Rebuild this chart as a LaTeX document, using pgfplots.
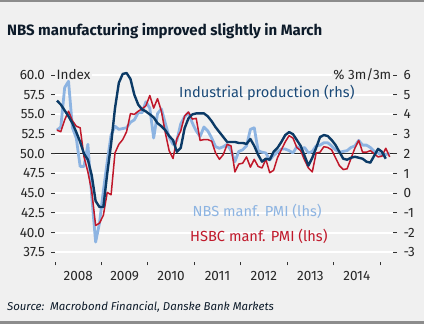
\documentclass[border=0pt]{standalone}
\usepackage{fontspec}
\setmainfont{Fira Sans}
\usepackage{pgfplots}
\pgfplotsset{compat=1.18}
\usepackage{pgfplotstable}

\definecolor{bg}{HTML}{F0F0F0}
\definecolor{navy}{HTML}{0B3A66}
\definecolor{navytxt}{HTML}{1B4A78}
\definecolor{lblue}{HTML}{8DB4E2}
\definecolor{hred}{HTML}{C0182A}
\definecolor{border}{HTML}{8C8C8C}
\definecolor{titlec}{HTML}{0D1B2A}

% m = months since Jan 2008; nbs, hsbc = PMI (lhs); ip = industrial production % 3m/3m (rhs)
\pgfplotstableread{
m nbs hsbc ip
0 53.0 53.0 4.7
1 53.4 52.8 4.5
2 58.4 54.3 4.2
3 59.2 55.4 3.9
4 53.3 54.2 3.55
5 52.0 53.5 3.1
6 48.4 53.3 2.6
7 48.4 49.6 2.0
8 51.2 47.7 1.7
9 44.6 45.2 0.9
10 38.8 40.9 -0.4
11 41.2 41.2 -0.7
12 45.3 42.2 -0.7
13 49.0 45.1 1.0
14 52.4 44.8 2.5
15 53.5 50.1 4.3
16 53.1 51.2 5.6
17 53.2 51.8 6.05
18 53.3 52.8 6.1
19 54.0 55.1 5.8
20 54.3 55.0 5.0
21 55.2 55.4 4.5
22 55.2 55.7 4.25
23 56.6 56.1 4.15
24 55.8 57.4 4.0
25 52.0 55.8 3.85
26 55.1 57.0 3.55
27 55.7 55.4 3.4
28 53.9 52.7 3.2
29 52.1 50.4 2.9
30 51.2 49.4 2.7
31 51.7 51.9 2.1
32 53.8 52.9 2.3
33 54.7 54.8 3.3
34 55.2 55.3 3.8
35 53.9 54.4 4.0
36 52.9 54.5 4.05
37 52.2 51.7 4.05
38 53.4 51.8 4.05
39 52.9 51.8 3.9
40 52.0 51.6 3.65
41 50.9 50.1 3.35
42 50.7 49.3 3.1
43 50.9 49.9 2.85
44 51.2 51.2 2.6
45 50.4 51.0 2.6
46 49.0 47.7 2.6
47 50.3 48.7 2.55
48 50.5 48.8 2.55
49 51.0 49.6 2.5
50 53.1 48.3 2.75
51 53.3 49.3 2.4
52 50.4 48.4 1.95
53 50.2 48.2 1.6
54 50.1 49.3 1.75
55 49.2 47.6 1.7
56 49.8 47.9 2.1
57 50.2 49.5 2.3
58 50.6 50.5 2.6
59 50.6 51.5 2.95
60 50.4 52.3 3.1
61 50.1 52.0 3.0
62 50.9 50.8 2.7
63 50.6 50.4 2.4
64 50.8 49.2 1.9
65 50.1 48.2 1.4
66 50.3 47.7 1.8
67 51.0 50.1 2.3
68 51.1 50.2 2.85
69 51.4 50.9 2.95
70 51.4 50.8 2.9
71 51.0 50.5 2.7
72 50.5 49.5 2.45
73 50.2 48.5 2.1
74 50.3 48.0 1.75
75 50.4 48.1 1.7
76 50.8 49.4 1.8
77 51.0 50.7 1.85
78 51.7 51.7 1.8
79 51.1 50.2 1.75
80 51.1 50.2 1.6
81 50.8 50.4 1.55
82 50.3 50.0 1.9
83 50.1 49.6 2.25
84 49.8 49.7 2.1
85 49.9 50.7 1.75
86 50.1 49.6 nan
}\pmidata

\pgfplotsset{
  numfont/.style={font=\fontsize{13.5bp}{15bp}\selectfont, text=black!85},
}

\begin{document}
\begin{tikzpicture}
\fill[bg] (0bp,0bp) rectangle (424bp,324bp);
\fill[border] (0bp,321.5bp) rectangle (424bp,324bp);
\fill[border] (0bp,0bp) rectangle (424bp,2.5bp);
\node[anchor=base west, inner sep=0, text=titlec, font=\fontsize{15bp}{17bp}\selectfont\bfseries] at (7bp,288.5bp) {NBS manufacturing improved slightly in March};
\node[anchor=base west, inner sep=0, text=titlec, font=\fontsize{11.4bp}{13bp}\selectfont\itshape] at (7bp,13.5bp) {Source:\ \ Macrobond Financial, Danske Bank Markets};

\begin{axis}[
  at={(55bp,62bp)}, anchor=south west, scale only axis,
  width=338bp, height=194.9bp,
  xmin=-0.5, xmax=86.86, ymin=36.27, ymax=61,
  axis x line*=bottom, axis y line*=left,
  x axis line style={draw=none}, y axis line style={draw=none},
  xtick={-0.5,11.5,23.5,35.5,47.5,59.5,71.5,83.5},
  xticklabels={2008,2009,2010,2011,2012,2013,2014,2015},
  x tick label as interval,
  ytick={37.5,40,42.5,45,47.5,50,52.5,55,57.5,60},
  ymajorgrids, grid style={white, line width=2bp},
  tick align=outside, major tick length=3.5bp,
  y tick style={line width=0.8bp, black!80},
  x tick style={line width=0.8bp, black!80},
  /pgf/number format/assume math mode=true,
  yticklabel style={numfont, /pgf/number format/fixed, /pgf/number format/fixed zerofill, /pgf/number format/precision=1, xshift=-3bp},
  xticklabel style={numfont, yshift=-2bp},
  clip=false,
]
\node[anchor=base west, fill=bg, inner xsep=1.5bp, inner ysep=2bp, text=black!85, font=\fontsize{13.5bp}{15bp}\selectfont] at (axis cs:-0.5,59.45) {Index};
\draw[black!85, line width=0.9bp] (axis cs:-0.5,50) -- (axis cs:86.86,50);
\addplot[lblue, line width=2.8bp, line join=round] table[x=m, y=nbs] {\pmidata};
\addplot[hred, line width=1.5bp, line join=round] table[x=m, y=hsbc] {\pmidata};
\end{axis}

\begin{axis}[
  at={(55bp,62bp)}, anchor=south west, scale only axis,
  width=338bp, height=194.9bp,
  xmin=-0.5, xmax=86.86, ymin=-3.492, ymax=6.4,
  axis x line=none, axis y line*=right,
  y axis line style={draw=none},
  ytick={-3,-2,-1,0,1,2,3,4,5,6},
  tick align=outside, major tick length=3.5bp,
  y tick style={line width=0.8bp, black!80},
  /pgf/number format/assume math mode=true,
  yticklabel style={numfont, xshift=3.5bp},
  unbounded coords=discard,
  clip=false,
]
\node[anchor=base east, fill=bg, inner xsep=1.5bp, inner ysep=2bp, text=black!85, font=\fontsize{13.5bp}{15bp}\selectfont] at (axis cs:86.86,5.78) {\% 3m/3m};
\addplot[navy, line width=2.4bp, line join=round] table[x=m, y=ip] {\pmidata};
\end{axis}

\node[anchor=base west, inner sep=0, text=navytxt, font=\fontsize{14.6bp}{16bp}\selectfont] at (179bp,226.5bp) {Industrial production (rhs)};
\node[anchor=base west, inner sep=0, text=lblue, font=\fontsize{14.6bp}{16bp}\selectfont] at (192.5bp,107bp) {NBS manf. PMI (lhs)};
\node[anchor=base west, inner sep=0, text=hred, font=\fontsize{14.6bp}{16bp}\selectfont] at (190bp,82.5bp) {HSBC manf. PMI (lhs)};
\pgfresetboundingbox
\useasboundingbox (0bp,0bp) rectangle (424bp,324bp);
\end{tikzpicture}
\end{document}
